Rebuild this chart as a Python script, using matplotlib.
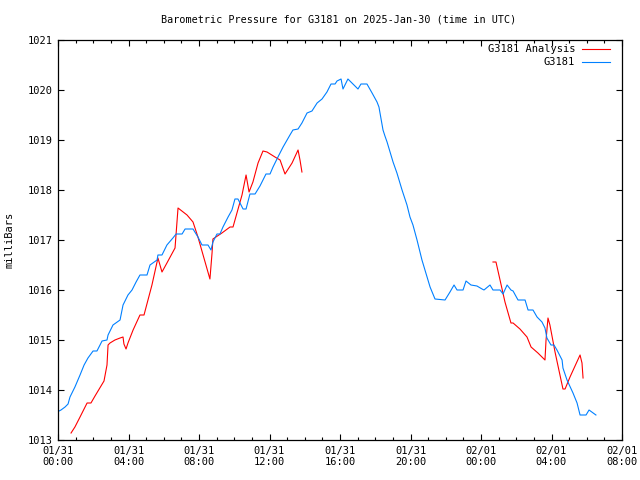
import numpy as np
import matplotlib
matplotlib.use("Agg")
import matplotlib.pyplot as plt
from matplotlib.ticker import MultipleLocator

# hours since 01/31 00:00 UTC
blue_t = [0.06, 0.17, 0.40, 0.57, 0.68, 0.96, 1.25, 1.48, 1.70, 1.99, 2.21, 2.50, 2.78, 2.84,
          3.12, 3.52, 3.69, 3.97, 4.20, 4.43, 4.65, 5.05, 5.22, 5.62, 5.67, 5.90, 6.18, 6.52,
          6.70, 7.04, 7.21, 7.66, 7.94, 8.17, 8.51, 8.68, 8.79, 9.02, 9.19, 9.36, 9.65, 9.87,
          10.04, 10.21, 10.50, 10.67, 10.89, 11.18, 11.46, 11.80, 12.03, 12.20, 12.48, 12.77,
          13.16, 13.33, 13.62, 13.84, 14.13, 14.41, 14.70, 14.98, 15.26, 15.49, 15.72, 15.83,
          16.06, 16.17, 16.45, 17.02, 17.19, 17.53, 17.82, 18.10, 18.21, 18.44, 18.55, 18.67,
          19.01, 19.23, 19.52, 19.80, 19.97, 20.14, 20.37, 20.65, 20.94, 21.11, 21.39, 21.96,
          22.24, 22.47, 22.64, 22.98, 23.15, 23.43, 23.77, 24.06, 24.17, 24.51, 24.68, 25.08,
          25.25, 25.48, 25.70, 25.82, 26.10, 26.50, 26.67, 26.95, 27.18, 27.46, 27.63, 27.74,
          27.97, 28.14, 28.31, 28.60, 28.65, 28.88, 29.22, 29.45, 29.62, 29.96, 30.13, 30.52]
blue_p = [1013.58, 1013.60, 1013.66, 1013.72, 1013.86, 1014.06, 1014.30, 1014.50, 1014.64,
          1014.78, 1014.78, 1014.98, 1015.00, 1015.10, 1015.30, 1015.40, 1015.70, 1015.90,
          1016.00, 1016.16, 1016.30, 1016.30, 1016.50, 1016.60, 1016.70, 1016.70, 1016.90,
          1017.04, 1017.12, 1017.12, 1017.22, 1017.22, 1017.06, 1016.90, 1016.90, 1016.80,
          1016.96, 1017.12, 1017.12, 1017.26, 1017.46, 1017.60, 1017.82, 1017.82, 1017.62,
          1017.62, 1017.92, 1017.92, 1018.08, 1018.32, 1018.32, 1018.46, 1018.66, 1018.86,
          1019.10, 1019.20, 1019.22, 1019.34, 1019.54, 1019.58, 1019.74, 1019.82, 1019.96,
          1020.12, 1020.12, 1020.18, 1020.22, 1020.02, 1020.22, 1020.02, 1020.12, 1020.12,
          1019.94, 1019.76, 1019.66, 1019.20, 1019.08, 1018.96, 1018.56, 1018.34, 1018.00,
          1017.70, 1017.46, 1017.30, 1017.00, 1016.60, 1016.26, 1016.06, 1015.82, 1015.80,
          1015.96, 1016.10, 1016.00, 1016.00, 1016.18, 1016.10, 1016.08, 1016.02, 1016.00,
          1016.10, 1016.00, 1016.00, 1015.92, 1016.10, 1016.00, 1015.98, 1015.80, 1015.80,
          1015.60, 1015.60, 1015.46, 1015.36, 1015.24, 1015.04, 1014.90, 1014.90, 1014.80,
          1014.60, 1014.44, 1014.20, 1013.94, 1013.74, 1013.50, 1013.50, 1013.60, 1013.50]

red_t = [0.74, 0.96, 1.25, 1.65, 1.87, 2.10, 2.27, 2.61, 2.78, 2.84, 2.95, 3.23, 3.52, 3.69,
         3.74, 3.86, 3.97, 4.26, 4.65, 4.88, 5.33, 5.67, 5.90, 6.18, 6.64, 6.81, 7.32, 7.66,
         7.94, 8.62, 8.74, 8.79, 9.30, 9.76, 9.93, 10.44, 10.67, 10.84, 11.06, 11.35, 11.63,
         11.86, 12.31, 12.60, 12.88, 13.28, 13.62, 13.73, 13.84,
         np.nan,
         24.68, 24.85, 25.08, 25.36, 25.70, 25.82, 26.21, 26.61, 26.84, 27.23, 27.63, 27.69,
         27.80, 27.91, 28.20, 28.65, 28.77, 29.05, 29.62, 29.73, 29.79]
red_p = [1013.14, 1013.26, 1013.46, 1013.74, 1013.74, 1013.88, 1013.98, 1014.18, 1014.50,
         1014.90, 1014.94, 1015.00, 1015.04, 1015.06, 1014.92, 1014.82, 1014.94, 1015.20,
         1015.50, 1015.50, 1016.10, 1016.64, 1016.36, 1016.54, 1016.84, 1017.64, 1017.50,
         1017.36, 1017.06, 1016.22, 1016.74, 1017.02, 1017.14, 1017.26, 1017.26, 1017.90,
         1018.30, 1017.96, 1018.16, 1018.54, 1018.78, 1018.76, 1018.66, 1018.60, 1018.32,
         1018.54, 1018.80, 1018.60, 1018.36,
         np.nan,
         1016.56, 1016.56, 1016.20, 1015.76, 1015.34, 1015.34, 1015.22, 1015.06, 1014.86,
         1014.74, 1014.60, 1015.00, 1015.44, 1015.30, 1014.76, 1014.02, 1014.02, 1014.26,
         1014.70, 1014.54, 1014.24]

x_ticks = [0, 4, 8, 12, 16, 20, 24, 28, 32]
x_labels = ["01/31\n00:00", "01/31\n04:00", "01/31\n08:00", "01/31\n12:00", "01/31\n16:00",
            "01/31\n20:00", "02/01\n00:00", "02/01\n04:00", "02/01\n08:00"]
y_ticks = [1013, 1014, 1015, 1016, 1017, 1018, 1019, 1020, 1021]

title = "Barometric Pressure for G3181 on 2025-Jan-30 (time in UTC)"
y_title = "milliBars"
red_label = "G3181 Analysis"
blue_label = "G3181"

plt.rcParams['font.family'] = ['DejaVu Sans Mono']
fs = 7.5

fig = plt.figure(figsize=(6.4, 4.8), dpi=100)
ax = fig.add_axes([58/640, 40/480, 564/640, 400/480])

ax.plot(red_t, red_p, color='#ff0000', lw=0.8)
ax.plot(blue_t, blue_p, color='#0080ff', lw=0.8)

ax.set_xlim(0, 32)
ax.set_ylim(1013, 1021)
ax.set_xticks(x_ticks)
ax.set_xticklabels(x_labels, fontsize=fs)
ax.xaxis.set_minor_locator(MultipleLocator(1))
ax.set_yticks(y_ticks)
ax.set_yticklabels([str(v) for v in y_ticks], fontsize=fs)
ax.tick_params(which='both', direction='in', top=True, right=True, color='black')
ax.tick_params(which='major', length=4, width=0.8, pad=4)
ax.tick_params(which='minor', length=2.2, width=0.8)
for s in ax.spines.values():
    s.set_linewidth(0.9)

fig.text(10/640, 1 - 240/480, y_title, rotation=90, ha='center', va='center', fontsize=fs)
fig.text(339/640, 1 - 19/480, title, ha='center', va='center', fontsize=7.3)

# legend, gnuplot style (right-aligned text with sample line)
for i, (lab, col) in enumerate([(red_label, '#ff0000'), (blue_label, '#0080ff')]):
    yy = 1 - (49 + 13*i - 40) / 400
    ax.text((575 - 58) / 564, yy, lab, transform=ax.transAxes, ha='right', va='center', fontsize=fs)
    ax.plot([(582 - 58) / 564, (610 - 58) / 564], [yy, yy], transform=ax.transAxes,
            color=col, lw=0.8, clip_on=False)

fig.savefig("out.png", dpi=100)
